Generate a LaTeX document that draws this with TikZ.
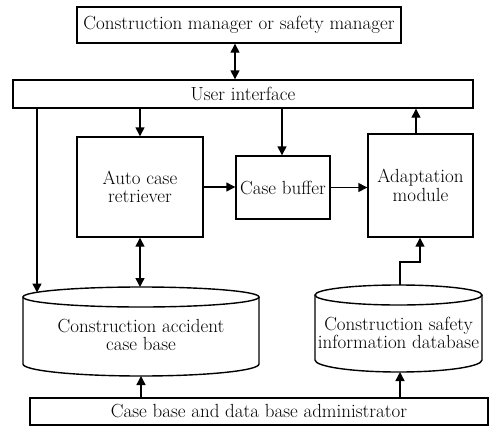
\documentclass[tikz,border=0pt]{standalone}
\usetikzlibrary{arrows.meta}
\begin{document}
\begin{tikzpicture}[x=1pt,y=-1pt,
  line width=1.4pt,
  box/.style={draw, rectangle, inner sep=0pt, align=center, font=\fontsize{19}{18.5}\selectfont},
  lbl/.style={inner sep=0pt, align=center, font=\fontsize{19}{18.5}\selectfont},
  arr/.style={-{Triangle[length=9pt,width=9pt]}},
  darr/.style={{Triangle[length=9pt,width=9pt]}-{Triangle[length=9pt,width=9pt]}}]
\useasboundingbox (0,0) rectangle (490,426);
% boxes
\node[box, minimum width=324pt, minimum height=36pt] (mgr) at (239,25) {Construction manager or safety manager};
\node[box, minimum width=460pt, minimum height=28pt] (ui) at (243,94) {User interface};
\node[box, minimum width=126pt, minimum height=100pt] (auto) at (140,187) {Auto case\\retriever};
\node[box, minimum width=94pt, minimum height=63pt] (buf) at (283,187.5) {Case buffer};
\node[box, minimum width=105pt, minimum height=103pt] (adapt) at (420.5,185.5) {Adaptation\\module};
\node[box, minimum width=458pt, minimum height=27pt] (adm) at (259,411.5) {Case base and data base administrator};
% cylinder 1
\draw (23,297) -- (23,364) arc[start angle=180,end angle=0,x radius=118,y radius=12] -- (259,297);
\draw (141,297) ellipse[x radius=118,y radius=10];
\node[lbl] (cb) at (141,335) {Construction accident\\case base};
\coordinate (cbtop) at (140,287);
\coordinate (cbtopL) at (37,292.5);
\coordinate (cbbot) at (141,376);
% cylinder 2
\draw (315,295) -- (315,360) arc[start angle=180,end angle=0,x radius=83.5,y radius=12] -- (482,295);
\draw (398.5,295) ellipse[x radius=83.5,y radius=10];
\node[lbl] (sdb) at (398.5,333) {Construction safety\\information database};
\coordinate (sdbtop) at (400,285);
\coordinate (sdbbot) at (400,372);
\coordinate (step) at (400,262);
% connectors
\draw[darr] (mgr.south -| 235,0) -- (ui.north -| 235,0);
\draw[arr] (ui.south -| auto.north) -- (auto.north);
\draw (ui.south -| 282,0) -- (282,145);
\draw[arr] (282,140) -- (buf.north -| 282,0);
\draw[arr] (adapt.north -| 416,0) -- (ui.south -| 416,0);
\draw[arr] (ui.south -| cbtopL) -- (cbtopL);
\draw[arr] (auto.east) -- (auto.east -| buf.west);
\draw[arr] (buf.east) -- (buf.east -| adapt.west);
\draw[darr] (auto.south) -- (cbtop);
\draw[arr] (sdbtop) -- (step) -| (adapt.south -| 420,0);
\draw[arr] (adm.north -| cbbot) -- (cbbot);
\draw[arr] (adm.north -| sdbbot) -- (sdbbot);
\end{tikzpicture}
\end{document}
